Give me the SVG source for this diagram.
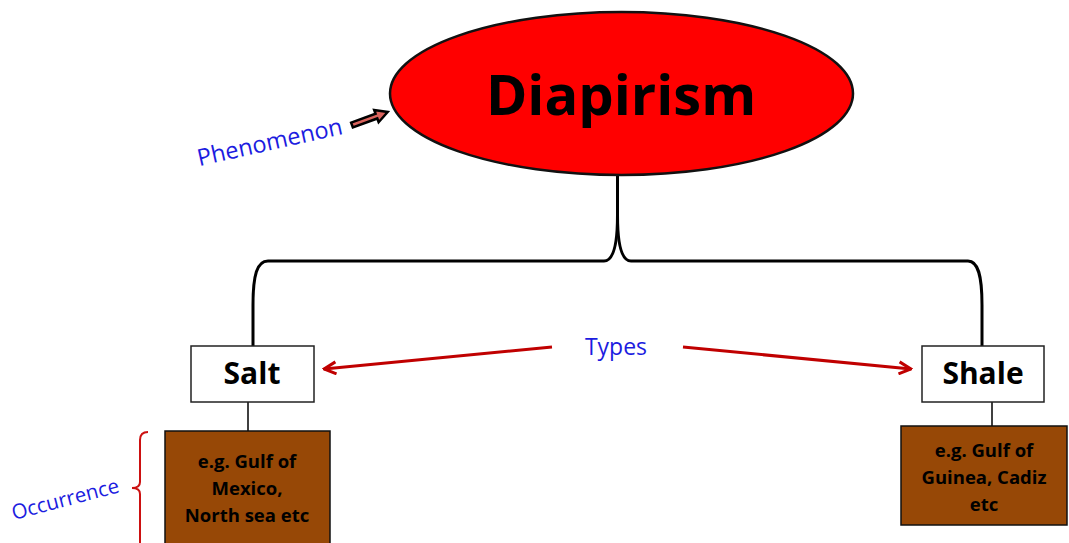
<svg xmlns="http://www.w3.org/2000/svg" width="1069" height="543" viewBox="0 0 1069 543">
<defs>
<style>
.lbl{font-family:"Open Sans","Liberation Sans",sans-serif;fill:#1c1ce0;}
.bold{font-family:"Open Sans","Liberation Sans",sans-serif;font-weight:bold;fill:#000;text-anchor:middle;}
.box{fill:#fff;stroke:#222;stroke-width:1.5;}
.brown{fill:#974806;stroke:#111;stroke-width:1.5;}
.conn{fill:none;stroke:#000;stroke-width:3;}
.thin{fill:none;stroke:#000;stroke-width:1.5;}
.red{fill:none;stroke:#c00000;stroke-width:3;}
</style>
<marker id="ah" viewBox="0 0 10 10" refX="9" refY="5" markerWidth="5" markerHeight="5" orient="auto" markerUnits="strokeWidth">
<path d="M1,1 L9,5 L1,9" fill="none" stroke="#c00000" stroke-width="2"/>
</marker>
</defs>
<rect width="1069" height="543" fill="#fff"/>

<g id="connectors">
<path class="conn" d="M617.5,176 L617.5,215 C617.5,250 612,261 604,261 L268,261 C257,261 253,275 253,305 L253,346"/>
<path class="conn" d="M617.5,215 C617.5,250 623,261 631,261 L968,261 C978,261 982,275 982,305 L982,346"/>
<line class="thin" x1="248" y1="402" x2="248" y2="431"/>
<line class="thin" x1="992" y1="402" x2="992" y2="426"/>
<line class="red" x1="552" y1="347" x2="324" y2="369" marker-end="url(#ah)"/>
<line class="red" x1="683" y1="347" x2="911" y2="369" marker-end="url(#ah)"/>
</g>

<g id="diapirism">
<ellipse cx="621.5" cy="93.5" rx="231.5" ry="81.5" fill="#ff0000" stroke="#111" stroke-width="2.5"/>
<text class="bold" x="621" y="115" font-size="56">Diapirism</text>
</g>

<g id="phenomenon">
<text class="lbl" x="271.5" y="150" font-size="23.5" text-anchor="middle" transform="rotate(-12.6 271.5 150)">Phenomenon</text>
<polygon points="0,-2.5 26,-2.5 26,-6.5 38,0 26,6.5 26,2.5 0,2.5" fill="#d9625c" stroke="#000" stroke-width="2.5" stroke-linejoin="miter" transform="translate(352,125) rotate(-20)"/>
</g>

<g id="types">
<text class="lbl" x="616" y="355" font-size="23" text-anchor="middle">Types</text>
</g>

<g id="salt">
<rect class="box" x="191" y="346" width="123" height="56"/>
<text class="bold" x="252" y="384" font-size="30">Salt</text>
</g>

<g id="shale">
<rect class="box" x="922" y="346" width="122" height="56"/>
<text class="bold" x="983" y="384" font-size="30">Shale</text>
</g>

<g id="salt-occurrence">
<rect class="brown" x="165" y="431" width="165" height="120"/>
<text class="bold" x="247" y="468" font-size="18.5">e.g. Gulf of</text>
<text class="bold" x="247" y="495" font-size="18.5">Mexico,</text>
<text class="bold" x="247" y="522" font-size="18.5">North sea etc</text>
</g>

<g id="shale-occurrence">
<rect class="brown" x="901" y="426" width="166" height="99"/>
<text class="bold" x="984" y="457" font-size="18.5">e.g. Gulf of</text>
<text class="bold" x="984" y="484" font-size="18.5">Guinea, Cadiz</text>
<text class="bold" x="984" y="511" font-size="18.5">etc</text>
</g>

<g id="occurrence">
<text class="lbl" x="67" y="506" font-size="20.5" text-anchor="middle" transform="rotate(-14.7 67 506)">Occurrence</text>
<path d="M148,432 Q140,432 140,440 L140,482 Q140,488 132,488 Q140,488 140,494 L140,548" fill="none" stroke="#cc1111" stroke-width="2"/>
</g>
</svg>
